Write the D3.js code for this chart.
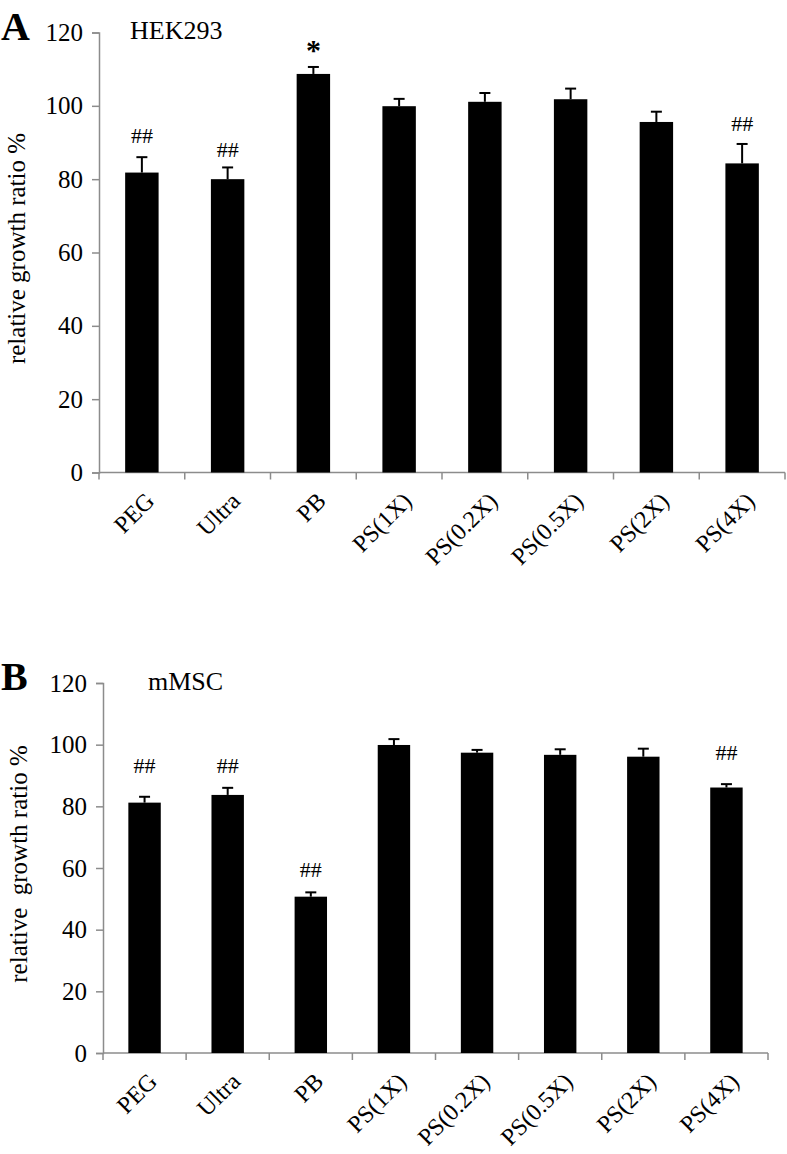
<!DOCTYPE html>
<html>
<head>
<meta charset="utf-8">
<script src="https://cdn.jsdelivr.net/npm/d3@7"></script>
<style>
  html, body { margin: 0; padding: 0; background: #fff; }
  svg { display: block; }
  text { font-family: "Liberation Serif", "Times New Roman", serif; fill: #000; }
</style>
</head>
<body>
<svg id="chart" width="787" height="1154"></svg>
<script>
// ---------- data ----------
const categories = ["PEG", "Ultra", "PB", "PS(1X)", "PS(0.2X)", "PS(0.5X)", "PS(2X)", "PS(4X)"];
const yTicks = [0, 20, 40, 60, 80, 100, 120];

// Panel A: HEK293
const hekMean = [81.8, 80.0, 108.7, 99.9, 101.1, 101.8, 95.6, 84.3];
const hekErr  = [4.2, 3.2, 1.9, 2.0, 2.4, 2.9, 2.8, 5.3];
const hekMark = ["##", "##", "*", "", "", "", "", "##"];
const hekMarkLevel = [89.9, 86.0, 112.5, 0, 0, 0, 0, 93.1];

// Panel B: mMSC
const mscMean = [81.2, 83.7, 50.7, 99.9, 97.4, 96.7, 96.1, 86.1];
const mscErr  = [1.9, 2.3, 1.4, 1.9, 0.9, 1.8, 2.6, 1.1];
const mscMark = ["##", "##", "##", "", "", "", "", "##"];
const mscMarkLevel = [90.8, 90.8, 57.1, 0, 0, 0, 0, 95.0];

const yLabelText = ["relative growth ratio %", "relative\u00a0 growth ratio %"];

// ---------- drawing ----------
const svg = d3.select("#chart");

function panel(cfg) {
  const g = svg.append("g");
  const x = d3.scaleBand().domain(categories).range([cfg.x0, cfg.x1]).padding(0);
  const y = d3.scaleLinear().domain([0, 120]).range([cfg.yBottom, cfg.yTop]);
  const bw = x.bandwidth();
  const barW = bw * 0.39;
  const axisColor = "#8c8c8c";

  // Y axis
  const yAxis = d3.axisLeft(y).tickValues(yTicks).tickSize(7).tickPadding(9).tickFormat(d3.format("d"));
  const ya = g.append("g").attr("transform", `translate(${cfg.x0},0)`).call(yAxis);
  ya.select(".domain").attr("stroke", axisColor).attr("stroke-width", 1.5);
  ya.selectAll(".tick line").attr("stroke", axisColor).attr("stroke-width", 1.5);
  ya.selectAll(".tick text").attr("font-family", "Liberation Serif").attr("font-size", 25).attr("fill", "#000");

  // X axis line with ticks at band boundaries
  const boundaries = categories.map(c => x(c)).concat([cfg.x1]);
  g.append("line").attr("x1", cfg.x0).attr("x2", cfg.x1)
    .attr("y1", y(0)).attr("y2", y(0)).attr("stroke", axisColor).attr("stroke-width", 1.5);
  g.selectAll(".xtick").data(boundaries).join("line")
    .attr("x1", d => d).attr("x2", d => d)
    .attr("y1", y(0)).attr("y2", y(0) + 7)
    .attr("stroke", axisColor).attr("stroke-width", 1.5);

  // bars
  g.selectAll(".bar").data(cfg.mean).join("rect")
    .attr("x", (d, i) => x(categories[i]) + (bw - barW) / 2)
    .attr("width", barW)
    .attr("y", d => y(d))
    .attr("height", d => y(0) - y(d))
    .attr("fill", "#000");

  // error bars (upper only)
  const eb = g.selectAll(".eb").data(cfg.mean).join("g");
  eb.append("line")
    .attr("x1", (d, i) => x(categories[i]) + bw / 2)
    .attr("x2", (d, i) => x(categories[i]) + bw / 2)
    .attr("y1", d => y(d))
    .attr("y2", (d, i) => y(d + cfg.err[i]))
    .attr("stroke", "#000").attr("stroke-width", 2);
  eb.append("line")
    .attr("x1", (d, i) => x(categories[i]) + bw / 2 - 5.5)
    .attr("x2", (d, i) => x(categories[i]) + bw / 2 + 5.5)
    .attr("y1", (d, i) => y(d + cfg.err[i]))
    .attr("y2", (d, i) => y(d + cfg.err[i]))
    .attr("stroke", "#000").attr("stroke-width", 2);

  // significance marks
  g.selectAll(".mark").data(cfg.mark).join("text")
    .attr("x", (d, i) => x(categories[i]) + bw / 2)
    .attr("y", (d, i) => y(cfg.markLevel[i]))
    .attr("text-anchor", "middle")
    .attr("font-size", d => d === "*" ? 30 : 22)
    .attr("font-weight", d => d === "*" ? "bold" : "normal")
    .text(d => d);

  // category labels (rotated)
  g.selectAll(".xl").data(categories).join("text")
    .attr("transform", d => `translate(${x(d) + bw / 2 + 14},${y(0) + 30}) rotate(-45)`)
    .attr("text-anchor", "end")
    .attr("font-size", 24)
    .text(d => d);

  // panel letter
  g.append("text").attr("x", cfg.letterX).attr("y", cfg.letterY)
    .attr("font-size", 40).attr("font-weight", "bold").text(cfg.letter);

  // cell line title
  g.append("text").attr("x", cfg.titleX).attr("y", cfg.titleY)
    .attr("font-size", 26).text(cfg.title);

  // y axis label
  g.append("text")
    .attr("transform", `translate(${cfg.yLabelX},${(cfg.yTop + cfg.yBottom) / 2 - 4}) rotate(-90)`)
    .attr("text-anchor", "middle")
    .attr("font-size", 25)
    .text(cfg.yLabel);
}

panel({
  x0: 99, x1: 785, yTop: 32.5, yBottom: 472.5,
  mean: hekMean, err: hekErr, mark: hekMark, markLevel: hekMarkLevel,
  letter: "A", letterX: 1, letterY: 40,
  title: "HEK293", titleX: 130, titleY: 39,
  yLabel: yLabelText[0], yLabelX: 25
});

panel({
  x0: 103, x1: 768, yTop: 683, yBottom: 1053,
  mean: mscMean, err: mscErr, mark: mscMark, markLevel: mscMarkLevel,
  letter: "B", letterX: 1, letterY: 690,
  title: "mMSC", titleX: 148, titleY: 690,
  yLabel: yLabelText[1], yLabelX: 27
});
</script>
</body>
</html>
